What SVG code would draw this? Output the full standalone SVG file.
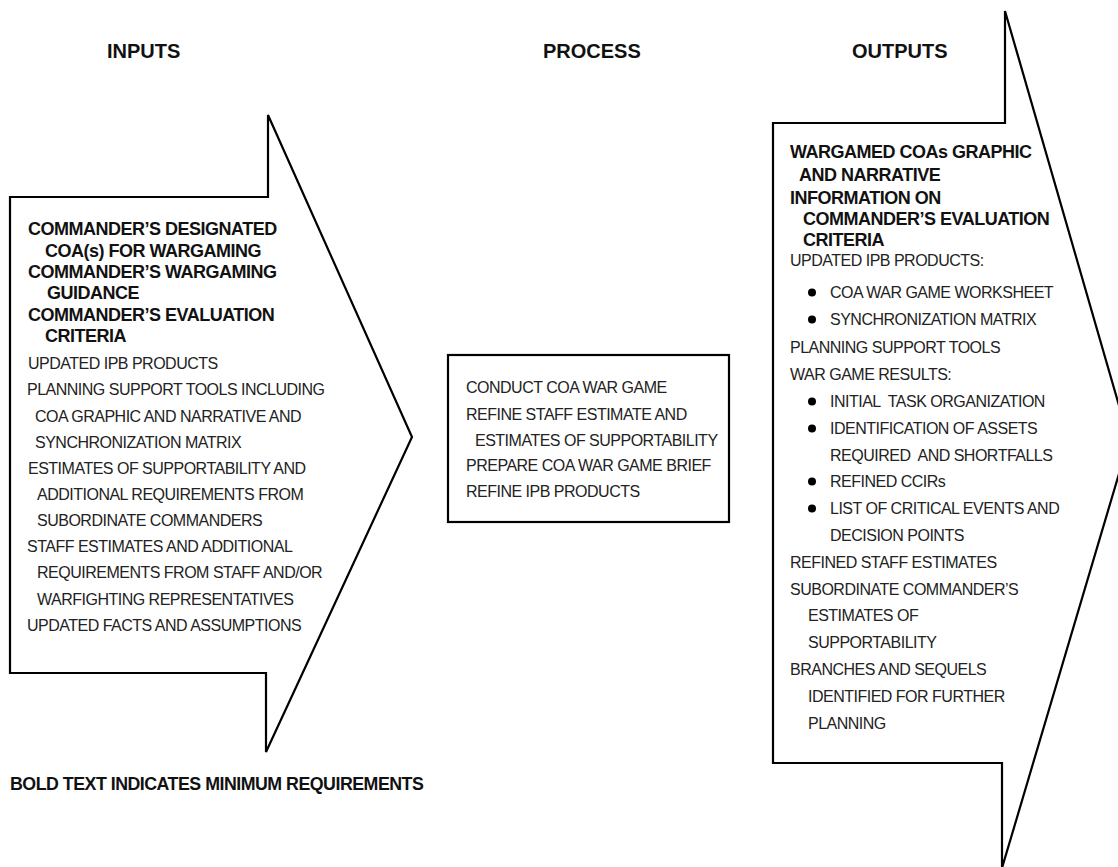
<svg xmlns="http://www.w3.org/2000/svg" width="1118" height="867" viewBox="0 0 1118 867">
<style>
.h{font-family:"Liberation Sans",Arial,sans-serif;font-weight:bold;font-size:20px;fill:#111}
.b{font-family:"Liberation Sans",Arial,sans-serif;font-weight:bold;font-size:18px;letter-spacing:-0.5px;fill:#111}
.n{font-family:"Liberation Sans",Arial,sans-serif;font-weight:bold;font-size:17.8px;letter-spacing:-0.5px;fill:#111}
.r{font-family:"Liberation Sans",Arial,sans-serif;font-size:16px;letter-spacing:-0.5px;fill:#222}
.shape{fill:#fff;stroke:#000;stroke-width:2.2;stroke-linejoin:miter}
.dot{fill:#000}
</style>
<rect x="0" y="0" width="1118" height="867" fill="#fff"/>
<g id="headers">
<text class="h" x="107" y="58">INPUTS</text>
<text class="h" x="543" y="58">PROCESS</text>
<text class="h" x="852" y="58">OUTPUTS</text>
</g>
<g id="connectors"></g>
<g id="inputs">
<polygon class="shape" points="10,197 268,197 268,115 412,437 266,752 266,673 10,673"/>
<text class="b" x="28" y="235">COMMANDER’S DESIGNATED</text>
<text class="b" x="45" y="256.5">COA(s) FOR WARGAMING</text>
<text class="b" x="28" y="278">COMMANDER’S WARGAMING</text>
<text class="b" x="47" y="299">GUIDANCE</text>
<text class="b" x="28" y="320.5">COMMANDER’S EVALUATION</text>
<text class="b" x="45" y="342">CRITERIA</text>
<text class="r" x="28" y="369">UPDATED IPB PRODUCTS</text>
<text class="r" x="27" y="395">PLANNING SUPPORT TOOLS INCLUDING</text>
<text class="r" x="35" y="421.5">COA GRAPHIC AND NARRATIVE AND</text>
<text class="r" x="35" y="447.5">SYNCHRONIZATION MATRIX</text>
<text class="r" x="28" y="473.5">ESTIMATES OF SUPPORTABILITY AND</text>
<text class="r" x="37" y="500">ADDITIONAL REQUIREMENTS FROM</text>
<text class="r" x="37" y="526">SUBORDINATE COMMANDERS</text>
<text class="r" x="27" y="552">STAFF ESTIMATES AND ADDITIONAL</text>
<text class="r" x="37" y="578">REQUIREMENTS FROM STAFF AND/OR</text>
<text class="r" x="37" y="604.5">WARFIGHTING REPRESENTATIVES</text>
<text class="r" x="27" y="631">UPDATED FACTS AND ASSUMPTIONS</text>
</g>
<g id="process">
<rect class="shape" x="448" y="355" width="281" height="167" stroke-width="2.6"/>
<text class="r" x="466" y="393">CONDUCT COA WAR GAME</text>
<text class="r" x="466" y="419.5">REFINE STAFF ESTIMATE AND</text>
<text class="r" x="475" y="445.5">ESTIMATES OF SUPPORTABILITY</text>
<text class="r" x="466" y="471">PREPARE COA WAR GAME BRIEF</text>
<text class="r" x="466" y="497">REFINE IPB PRODUCTS</text>
</g>
<g id="outputs">
<polygon class="shape" points="773,123 1005,123 1005,11 1129,440 1002,868 1002,763 773,763"/>
<text class="b" x="790" y="158">WARGAMED COAs GRAPHIC</text>
<text class="b" x="799" y="181">AND NARRATIVE</text>
<text class="b" x="790" y="204">INFORMATION ON</text>
<text class="b" x="803" y="225">COMMANDER’S EVALUATION</text>
<text class="b" x="803" y="246">CRITERIA</text>
<text class="r" x="790" y="266">UPDATED IPB PRODUCTS:</text>
<circle class="dot" cx="812" cy="292.5" r="4"/>
<text class="r" x="830" y="298">COA WAR GAME WORKSHEET</text>
<circle class="dot" cx="812" cy="319.5" r="4"/>
<text class="r" x="830" y="325">SYNCHRONIZATION MATRIX</text>
<text class="r" x="790" y="353">PLANNING SUPPORT TOOLS</text>
<text class="r" x="790" y="380">WAR GAME RESULTS:</text>
<circle class="dot" cx="812" cy="401.5" r="4"/>
<text class="r" x="830" y="407" xml:space="preserve">INITIAL  TASK ORGANIZATION</text>
<circle class="dot" cx="812" cy="428.5" r="4"/>
<text class="r" x="830" y="434">IDENTIFICATION OF ASSETS</text>
<text class="r" x="830" y="461" xml:space="preserve">REQUIRED  AND SHORTFALLS</text>
<circle class="dot" cx="812" cy="481.5" r="4"/>
<text class="r" x="830" y="487">REFINED CCIRs</text>
<circle class="dot" cx="812" cy="508.5" r="4"/>
<text class="r" x="830" y="514">LIST OF CRITICAL EVENTS AND</text>
<text class="r" x="830" y="541">DECISION POINTS</text>
<text class="r" x="790" y="567.5">REFINED STAFF ESTIMATES</text>
<text class="r" x="790" y="594.5">SUBORDINATE COMMANDER’S</text>
<text class="r" x="808" y="621">ESTIMATES OF</text>
<text class="r" x="808" y="647.5">SUPPORTABILITY</text>
<text class="r" x="790" y="675">BRANCHES AND SEQUELS</text>
<text class="r" x="808" y="702">IDENTIFIED FOR FURTHER</text>
<text class="r" x="808" y="729">PLANNING</text>
</g>
<g id="note">
<text class="n" x="10" y="790">BOLD TEXT INDICATES MINIMUM REQUIREMENTS</text>
</g>
</svg>
